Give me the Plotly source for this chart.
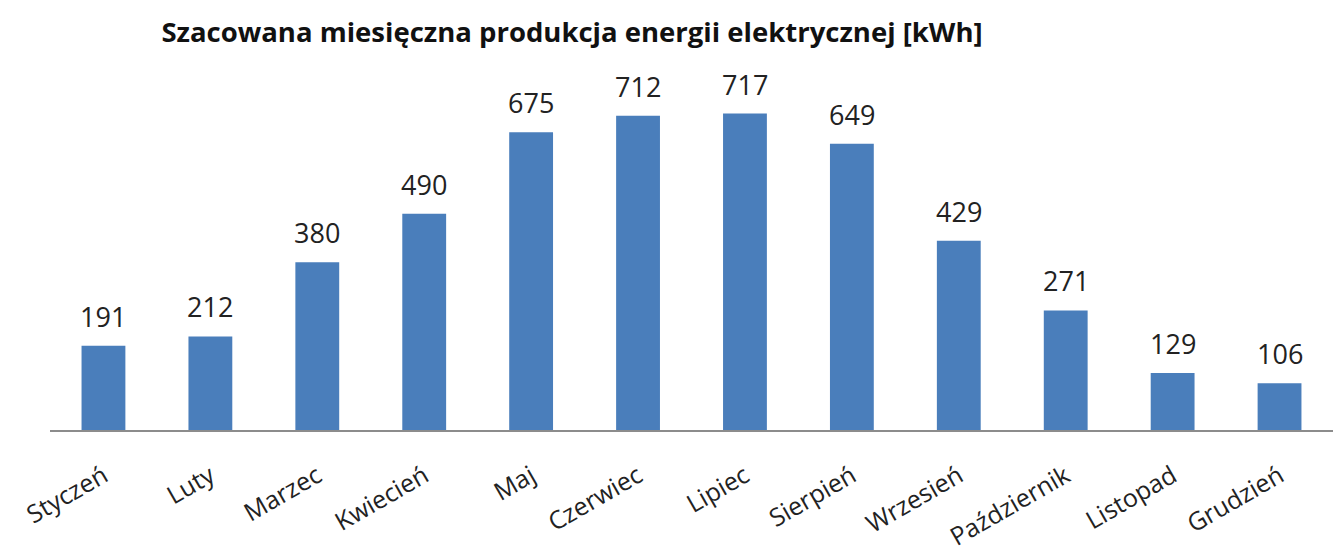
import plotly.graph_objects as go

months = ["Styczeń", "Luty", "Marzec", "Kwiecień", "Maj", "Czerwiec",
          "Lipiec", "Sierpień", "Wrzesień", "Październik", "Listopad", "Grudzień"]
energy_kwh = [191, 212, 380, 490, 675, 712, 717, 649, 429, 271, 129, 106]

title_text = "Szacowana miesięczna produkcja energii elektrycznej [kWh]"
bar_color = "#4A7EBB"
font_family = "Open Sans, Noto Sans, sans-serif"

fig = go.Figure(
    go.Bar(
        x=months,
        y=energy_kwh,
        marker=dict(color=bar_color, line=dict(width=0)),
        width=0.41,
        hoverinfo="x+y",
    )
)

# value labels sitting above each bar
for m, v in zip(months, energy_kwh):
    fig.add_annotation(
        x=m, y=v, text=str(v), showarrow=False,
        xanchor="center", yanchor="bottom", yshift=9,
        font=dict(family=font_family, size=27, color="#222222"),
    )

fig.update_layout(
    width=1333, height=553,
    margin=dict(l=50, r=0, t=77, b=121),
    paper_bgcolor="white", plot_bgcolor="white",
    showlegend=False,
    title=dict(
        text=f"<b>{title_text}</b>",
        x=572 / 1333, xanchor="center",
        y=1 - 32 / 553, yanchor="middle",
        font=dict(family=font_family, size=27.5, color="#111111"),
    ),
    xaxis=dict(
        showline=True, linecolor="#8c8c8c", linewidth=1.5,
        ticks="", tickangle=-30,
        tickfont=dict(family=font_family, size=25, color="#222222"),
        ticklabelstandoff=20,
        showgrid=False,
    ),
    yaxis=dict(
        range=[0, 800], visible=False, showgrid=False, zeroline=False,
    ),
)

fig.write_html("out.html")
